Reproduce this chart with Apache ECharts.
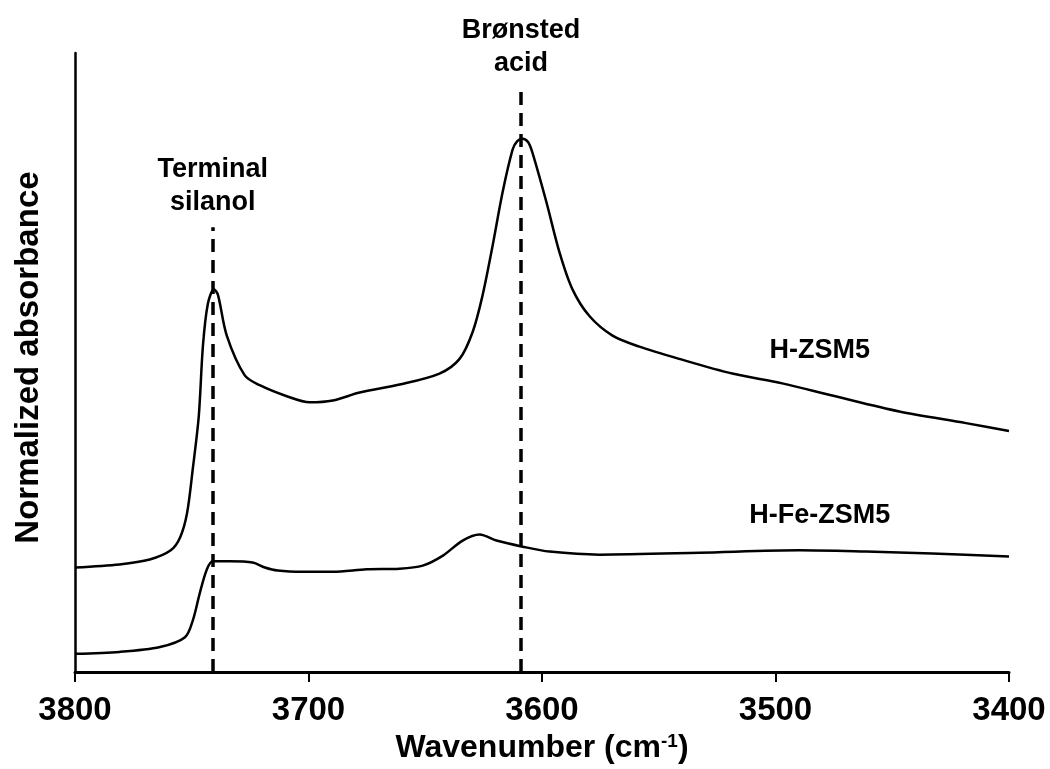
<!DOCTYPE html>
<html>
<head>
<meta charset="utf-8">
<script src="https://cdn.jsdelivr.net/npm/echarts@6/dist/echarts.min.js"></script>
<style>html,body{margin:0;padding:0;background:#fff}#c{width:1050px;height:769px}</style>
</head>
<body>
<div id="c"></div>
<script>
// Wavenumber (cm-1) and normalized absorbance (arbitrary units)
const hzsm5Wn = [3800,3781,3768,3759,3755,3752,3749.5,3747,3745.2,3743.1,3740.5,3738.8,3735,3727.3,3720.9,3709.3,3699.5,3689.6,3678.1,3661,3643.9,3635.3,3629.7,3625.5,3621.2,3616.9,3612.6,3610.6,3608.3,3605.9,3604.1,3598.1,3592.5,3587,3579.7,3569.8,3558.3,3541.2,3518.5,3497.1,3475.7,3447,3418.4,3400];
const hzsm5Abs = [17.4,17.9,18.7,20.2,22.3,26.3,33.7,42.1,53.7,60.5,62.9,62.0,55.3,48.8,47.2,45.4,44.4,44.7,46.0,47.3,49.1,51.5,55.9,61.8,69.9,78.7,85.7,87.1,87.5,86.9,85.2,77.1,68.9,62.9,58.5,55.3,53.5,51.5,49.1,47.5,45.5,42.9,41.0,39.7];
const hfeWn = [3800,3781,3763.6,3752.9,3749.5,3746.5,3743.5,3741,3733.7,3723.9,3718.7,3713.2,3702.5,3689.6,3675.1,3661,3651.1,3642.6,3634,3626.7,3619.5,3608.3,3596.8,3575.4,3532.6,3489.8,3461.2,3432.9,3400];
const hfeAbs = [3.3,3.6,4.4,6.0,8.8,13.3,17.1,18.4,18.4,18.2,17.4,16.9,16.7,16.7,17.1,17.2,17.7,19.3,21.8,22.8,21.8,20.8,20.0,19.5,19.8,20.2,20.0,19.7,19.2];
const xTicks = [3800,3700,3600,3500,3400];
const bandWn = [3741, 3609];
const bandTop = [73, 95.8];
const bandNames = ['Terminal\nsilanol', 'Brønsted\nacid'];
const seriesNames = ['H-ZSM5', 'H-Fe-ZSM5'];

const zip = (a, b) => a.map((v, i) => [v, b[i]]);
const FONT = '"Liberation Sans", Arial, sans-serif';

const chart = echarts.init(document.getElementById('c'), null, {renderer: 'canvas'});
chart.setOption({
  animation: false,
  backgroundColor: '#fff',
  grid: {left: 75, right: 41, top: 53, bottom: 94},
  xAxis: {
    type: 'value', min: 3400, max: 3800, interval: 100, inverse: true,
    axisLine: {show: true, lineStyle: {color: '#000', width: 3}},
    axisTick: {show: true, inside: false, length: 10, lineStyle: {color: '#000', width: 2}},
    splitLine: {show: false},
    axisLabel: {color: '#000', fontFamily: FONT, fontWeight: 'bold', fontSize: 33, margin: 22,
      formatter: v => xTicks.includes(v) ? String(v) : ''},
    name: 'Wavenumber (cm{sup|-1})',
    nameLocation: 'middle', nameGap: 58,
    nameTextStyle: {color: '#000', fontFamily: FONT, fontWeight: 'bold', fontSize: 32,
      rich: {sup: {fontFamily: FONT, fontWeight: 'bold', fontSize: 19, verticalAlign: 'top', padding: [0,0,12,0], color: '#000'}}}
  },
  yAxis: {
    type: 'value', min: 0.3, max: 101.5,
    axisLine: {show: true, lineStyle: {color: '#000', width: 2.5}},
    axisTick: {show: false}, axisLabel: {show: false}, splitLine: {show: false},
    name: 'Normalized absorbance', nameLocation: 'middle', nameGap: 30, nameRotate: 90,
    nameTextStyle: {color: '#000', fontFamily: FONT, fontWeight: 'bold', fontSize: 33, padding: [0, 0, 0, 10]}
  },
  series: [
    {
      name: seriesNames[0], type: 'line', data: zip(hzsm5Wn, hzsm5Abs), smooth: 0.3,
      symbol: 'none', lineStyle: {color: '#000', width: 2.5},
      markLine: {
        silent: true, symbol: 'none',
        lineStyle: {color: '#000', type: [13, 8], width: 3.5},
        label: {show: true, position: 'end', distance: 8, color: '#000', fontFamily: FONT, fontWeight: 'bold', fontSize: 27, lineHeight: 33, align: 'center',
          formatter: p => p.data.lbl},
        data: bandWn.map((w, i) => [{coord: [w, 0.3], lbl: bandNames[i]}, {coord: [w, bandTop[i]]}])
      },
      markPoint: {
        silent: true, symbol: 'circle', symbolSize: 0,
        label: {show: true, position: 'inside', color: '#000', fontFamily: FONT, fontWeight: 'bold', fontSize: 27, formatter: seriesNames[0]},
        data: [{coord: [3481, 52.8]}]
      }
    },
    {
      name: seriesNames[1], type: 'line', data: zip(hfeWn, hfeAbs), smooth: 0.3,
      symbol: 'none', lineStyle: {color: '#000', width: 2.5},
      markPoint: {
        silent: true, symbol: 'circle', symbolSize: 0,
        label: {show: true, position: 'inside', color: '#000', fontFamily: FONT, fontWeight: 'bold', fontSize: 27, formatter: seriesNames[1]},
        data: [{coord: [3481, 25.9]}]
      }
    }
  ]
});
</script>
</body>
</html>
